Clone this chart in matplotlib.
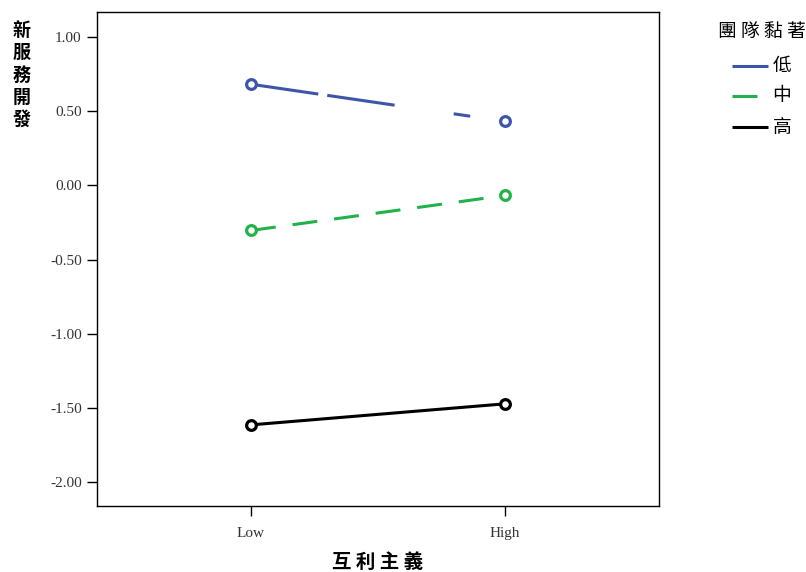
import matplotlib
matplotlib.use("Agg")
import matplotlib.pyplot as plt
from matplotlib.lines import Line2D

plt.rcParams['lines.scale_dashes'] = False

categories = ["Low", "High"]
series_names = ["低", "中", "高"]
legend_title = "團隊黏著"
x_title = "互利主義"
y_title = "新服務開發"
low_vals = [0.682, 0.432]
mid_vals = [-0.304, -0.068]
high_vals = [-1.615, -1.473]
yticks = [1.00, 0.50, 0.00, -0.50, -1.00, -1.50, -2.00]
ytick_labels = ["1.00", "0.50", "0.00", "-0.50", "-1.00", "-1.50", "-2.00"]

colors = ["#3C55A8", "#22B24A", "#000000"]
dashes = [(0, (49, 6.5, 49, 43, 12, 43)), (0, (18, 12.2)), "solid"]

W, H = 806, 572
fig = plt.figure(figsize=(W/100, H/100), dpi=100)
ax = fig.add_axes([97/W, 1-506/H, 562/W, 494/H])

x = list(range(len(categories)))
for vals, c, ls in zip([low_vals, mid_vals, high_vals], colors, dashes):
    ax.plot(x, vals, color=c, lw=2.2, linestyle=ls, solid_capstyle='butt', dash_capstyle='butt')
    ax.plot(x, vals, linestyle='none', marker='o', ms=7, mfc='white', mec=c, mew=2.3)

ax.set_xlim(-0.606, 1.606)
ax.set_ylim(-2.162, 1.169)
ax.set_xticks(x)
ax.set_xticklabels(categories)
ax.set_yticks(yticks)
ax.set_yticklabels(ytick_labels)
for lab in ax.get_xticklabels() + ax.get_yticklabels():
    lab.set_family("Liberation Serif")
    lab.set_fontsize(11)
    lab.set_color("#333333")
ax.tick_params(axis='both', direction='out', length=7, width=1, color='black')
ax.tick_params(axis='y', pad=4)
ax.tick_params(axis='x', pad=8)
for s in ax.spines.values():
    s.set_linewidth(1)
    s.set_color('black')

cjk = ["Noto Sans CJK TC", "DejaVu Sans"]
fig.text(378/W, 1-562/H, " ".join(x_title), family=cjk, fontsize=14, fontweight='bold',
         ha='center', va='center')
fig.text(22/W, 1-75/H, "\n".join(y_title), family=cjk, fontsize=13, fontweight='bold',
         ha='center', va='center', linespacing=1.22)

# legend drawn manually to match placement
fig.text(762/W, 1-31/H, " ".join(legend_title), family=cjk, fontsize=13.5,
         ha='center', va='center')
rows_y = [66, 96, 127]
for name, c, ls, ry in zip(series_names, colors, dashes, rows_y):
    fig.add_artist(Line2D([732/W, 768/W], [1-ry/H, 1-ry/H], transform=fig.transFigure,
                          color=c, lw=2.2, linestyle=ls, solid_capstyle='butt',
                          dash_capstyle='butt'))
    fig.text(782/W, 1-ry/H, name, family=cjk, fontsize=13.5, ha='center', va='center')

fig.savefig("out.png", dpi=100)
